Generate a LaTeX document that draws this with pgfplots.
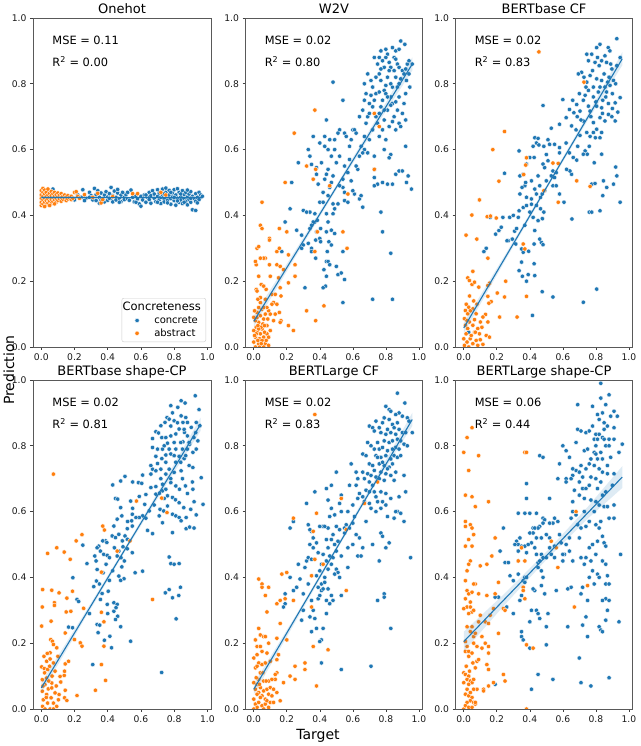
\documentclass[border=0pt]{standalone}
\usepackage{fontspec}
\setmainfont{DejaVu Sans}
\usepackage{pgfplots}
\pgfplotsset{compat=1.18}
\definecolor{tabblue}{RGB}{31,119,180}
\definecolor{taborange}{RGB}{255,127,14}
\pgfplotsset{
  panel/.style={
    scale only axis, width=177pt, height=329pt,
    xmin=-0.05, xmax=1.022, ymin=0, ymax=1,
    xtick={0,0.2,0.4,0.6,0.8,1}, ytick={0,0.2,0.4,0.6,0.8,1},
    tick align=outside, tick pos=left,
    major tick length=3pt,
    every tick/.style={black!75, line width=0.6pt},
    axis line style={black!65, line width=0.7pt},
    ticklabel style={font=\fontsize{9.2}{11}\selectfont, text=black!90},
    /pgf/number format/fixed, /pgf/number format/fixed zerofill,
    /pgf/number format/precision=1, /pgf/number format/assume math mode=true,
    title style={font=\fontsize{13}{15}\selectfont, at={(0.5,1)}, anchor=base, yshift=-2pt, inner sep=0pt},
    clip marker paths=true,
  },
  conc/.style={only marks, mark=*, mark size=2.2pt, mark options={fill=tabblue, draw=white, line width=0.35pt}},
  abst/.style={only marks, mark=*, mark size=2.2pt, mark options={fill=taborange, draw=white, line width=0.35pt}},
  regline/.style={tabblue, line width=1.1pt, forget plot},
  band/.style={fill=tabblue, fill opacity=0.15, draw=none, forget plot},
}
\newcommand{\stats}[2]{%
  \node[anchor=base west, font=\fontsize{11.4}{13}\selectfont, inner sep=0pt] at (rel axis cs:0.108,0.92) {MSE = #1};
  \node[anchor=base west, font=\fontsize{11.4}{13}\selectfont, inner sep=0pt] at (rel axis cs:0.108,0.852) {R\textsuperscript{2} = #2};
}
\begin{document}
\begin{tikzpicture}
\useasboundingbox (0pt,0pt) rectangle (640pt,746pt);

% ---------------- Onehot
\begin{axis}[panel, at={(33pt,399pt)}, anchor=south west, width=178pt, title={Onehot},
  legend style={at={(0.972,0.015)}, anchor=south east, draw=black!20, fill=white, rounded corners=2pt,
    font=\fontsize{10}{12}\selectfont, inner xsep=3pt, inner ysep=2pt, nodes={inner sep=2pt}},
  legend cell align=left,
  legend image code/.code={\path (0pt,0pt) (27pt,0pt); \draw[#1] plot coordinates {(12pt,0pt)};}]
\addlegendimage{empty legend}
\addlegendentry{\hspace*{-31.6pt}\fontsize{11.5}{13}\selectfont Concreteness}
\addplot[conc] coordinates {(0.07,0.480) (0.12,0.452) (0.17,0.458) (0.20,0.447) (0.22,0.462) (0.24,0.455) (0.25,0.478) (0.27,0.452) (0.29,0.470) (0.30,0.460) (0.31,0.447) (0.32,0.482) (0.33,0.463) (0.33,0.445) (0.34,0.475) (0.35,0.455) (0.35,0.437) (0.36,0.468) (0.37,0.450) (0.38,0.462) (0.38,0.441) (0.39,0.472) (0.40,0.456) (0.40,0.446) (0.41,0.466) (0.42,0.485) (0.42,0.452) (0.43,0.460) (0.43,0.441) (0.44,0.474) (0.45,0.455) (0.45,0.447) (0.46,0.468) (0.46,0.479) (0.47,0.452) (0.48,0.462) (0.48,0.442) (0.49,0.470) (0.50,0.455) (0.50,0.448) (0.51,0.463) (0.52,0.450) (0.53,0.446) (0.54,0.477) (0.55,0.455) (0.56,0.441) (0.57,0.460) (0.58,0.450) (0.59,0.435) (0.60,0.428) (0.60,0.458) (0.61,0.447) (0.62,0.462) (0.63,0.440) (0.64,0.455) (0.65,0.470) (0.65,0.448) (0.66,0.460) (0.66,0.437) (0.67,0.475) (0.68,0.452) (0.68,0.465) (0.69,0.442) (0.70,0.478) (0.70,0.458) (0.71,0.447) (0.71,0.468) (0.72,0.455) (0.72,0.436) (0.73,0.480) (0.73,0.462) (0.74,0.450) (0.74,0.441) (0.75,0.483) (0.75,0.470) (0.76,0.457) (0.76,0.445) (0.77,0.476) (0.77,0.462) (0.78,0.451) (0.78,0.434) (0.79,0.468) (0.79,0.456) (0.80,0.478) (0.80,0.445) (0.81,0.462) (0.81,0.431) (0.82,0.481) (0.82,0.452) (0.83,0.470) (0.83,0.440) (0.84,0.458) (0.84,0.447) (0.85,0.475) (0.85,0.436) (0.86,0.463) (0.86,0.451) (0.87,0.443) (0.87,0.470) (0.88,0.456) (0.88,0.432) (0.89,0.465) (0.89,0.448) (0.90,0.472) (0.90,0.440) (0.91,0.417) (0.91,0.458) (0.92,0.451) (0.93,0.415) (0.93,0.466) (0.93,0.443) (0.94,0.455) (0.95,0.470) (0.95,0.448) (0.96,0.462) (0.97,0.458) (0.94,0.438) (0.76,0.438) (0.80,0.455) (0.84,0.465) (0.88,0.477) (0.82,0.444) (0.78,0.470) (0.70,0.440) (0.86,0.440) (0.74,0.465) (0.90,0.452) (0.63,0.462) (0.57,0.440) (0.52,0.470) (0.47,0.440) (0.41,0.452) (0.36,0.447) (0.29,0.455) (0.26,0.445)};
\addlegendentry{concrete}
\addplot[abst] coordinates {(0.00,0.430) (0.00,0.440) (0.00,0.452) (0.00,0.462) (0.00,0.475) (0.01,0.435) (0.01,0.448) (0.01,0.458) (0.01,0.470) (0.01,0.482) (0.02,0.440) (0.02,0.452) (0.02,0.465) (0.02,0.477) (0.03,0.432) (0.03,0.445) (0.03,0.457) (0.03,0.470) (0.04,0.438) (0.04,0.450) (0.04,0.462) (0.04,0.480) (0.05,0.443) (0.05,0.455) (0.05,0.467) (0.06,0.436) (0.06,0.449) (0.06,0.460) (0.06,0.473) (0.07,0.442) (0.07,0.454) (0.07,0.466) (0.08,0.447) (0.08,0.458) (0.08,0.470) (0.09,0.440) (0.09,0.452) (0.09,0.463) (0.10,0.446) (0.10,0.457) (0.10,0.468) (0.11,0.450) (0.11,0.461) (0.12,0.443) (0.12,0.455) (0.12,0.466) (0.13,0.449) (0.13,0.458) (0.14,0.452) (0.14,0.462) (0.15,0.445) (0.15,0.456) (0.16,0.460) (0.16,0.450) (0.17,0.454) (0.18,0.448) (0.18,0.458) (0.19,0.452) (0.20,0.470) (0.21,0.472) (0.22,0.458) (0.23,0.452) (0.26,0.463) (0.31,0.455) (0.34,0.467) (0.36,0.438) (0.37,0.448) (0.43,0.457) (0.55,0.466) (0.58,0.466) (0.72,0.470) (0.75,0.462) (0.02,0.427) (0.05,0.430) (0.08,0.435)};
\addlegendentry{abstract}
\addplot[band] coordinates {(0,0.450) (0.5,0.452) (0.97,0.449) (0.97,0.458) (0.5,0.456) (0,0.459)} -- cycle;
\addplot[regline] coordinates {(0,0.4545) (0.97,0.4535)};
\stats{0.11}{0.00}
\end{axis}

% ---------------- W2V
\begin{axis}[panel, at={(245.5pt,399pt)}, anchor=south west, title={W2V}]
\addplot[conc] coordinates {(0.89,0.93) (0.915,0.92) (0.84,0.91) (0.77,0.90) (0.73,0.88) (0.81,0.89) (0.78,0.87) (0.85,0.88) (0.87,0.86) (0.75,0.86) (0.79,0.85) (0.83,0.85) (0.88,0.85) (0.93,0.86) (0.96,0.86) (0.90,0.84) (0.69,0.83) (0.67,0.80) (0.71,0.81) (0.77,0.81) (0.81,0.82) (0.86,0.82) (0.925,0.81) (0.945,0.79) (0.84,0.79) (0.79,0.78) (0.74,0.77) (0.68,0.77) (0.67,0.75) (0.73,0.75) (0.78,0.75) (0.83,0.76) (0.88,0.76) (0.66,0.72) (0.72,0.73) (0.77,0.73) (0.81,0.72) (0.87,0.72) (0.90,0.71) (0.64,0.70) (0.69,0.70) (0.74,0.70) (0.79,0.69) (0.85,0.70) (0.75,0.68) (0.88,0.68) (0.82,0.67) (0.68,0.68) (0.89,0.67) (0.54,0.75) (0.48,0.805) (0.44,0.69) (0.60,0.66) (0.61,0.66) (0.55,0.65) (0.52,0.66) (0.51,0.65) (0.43,0.64) (0.46,0.63) (0.49,0.63) (0.36,0.64) (0.40,0.62) (0.43,0.61) (0.45,0.60) (0.49,0.60) (0.56,0.64) (0.62,0.65) (0.59,0.63) (0.65,0.61) (0.67,0.60) (0.66,0.59) (0.69,0.59) (0.73,0.58) (0.64,0.58) (0.27,0.56) (0.33,0.60) (0.34,0.58) (0.35,0.555) (0.38,0.545) (0.38,0.525) (0.39,0.495) (0.44,0.525) (0.45,0.54) (0.48,0.52) (0.47,0.50) (0.43,0.51) (0.46,0.485) (0.55,0.55) (0.57,0.53) (0.63,0.54) (0.54,0.51) (0.59,0.505) (0.54,0.485) (0.61,0.465) (0.64,0.45) (0.65,0.46) (0.66,0.425) (0.55,0.47) (0.55,0.445) (0.57,0.44) (0.51,0.435) (0.48,0.435) (0.45,0.46) (0.40,0.44) (0.49,0.42) (0.44,0.405) (0.48,0.405) (0.37,0.405) (0.34,0.41) (0.30,0.415) (0.22,0.42) (0.23,0.50) (0.19,0.38) (0.26,0.355) (0.34,0.36) (0.37,0.38) (0.385,0.385) (0.405,0.36) (0.375,0.325) (0.40,0.33) (0.44,0.35) (0.47,0.355) (0.49,0.345) (0.405,0.32) (0.455,0.32) (0.47,0.31) (0.30,0.31) (0.33,0.315) (0.35,0.30) (0.35,0.29) (0.445,0.29) (0.29,0.30) (0.375,0.27) (0.44,0.26) (0.45,0.26) (0.46,0.25) (0.50,0.245) (0.425,0.235) (0.54,0.29) (0.17,0.29) (0.44,0.215) (0.51,0.22) (0.53,0.225) (0.55,0.205) (0.435,0.185) (0.42,0.18) (0.31,0.18) (0.54,0.135) (0.72,0.145) (0.84,0.145) (0.77,0.41) (0.78,0.35) (0.83,0.285) (0.75,0.495) (0.78,0.50) (0.81,0.495) (0.84,0.495) (0.73,0.515) (0.73,0.49) (0.86,0.525) (0.88,0.535) (0.90,0.535) (0.925,0.50) (0.935,0.52) (0.955,0.48) (0.92,0.61) (0.83,0.585) (0.82,0.575) (0.79,0.60) (0.73,0.54) (0.36,0.38) (0.35,0.37) (0.32,0.41) (0.42,0.47) (0.52,0.58) (0.50,0.56) (0.58,0.61) (0.62,0.55) (0.70,0.63) (0.76,0.64) (0.80,0.63) (0.86,0.66) (0.91,0.74) (0.94,0.83) (0.92,0.77) (0.80,0.88) (0.82,0.84) (0.76,0.83) (0.86,0.90) (0.88,0.80) (0.72,0.79) (0.70,0.74) (0.84,0.74) (0.80,0.77) (0.80,0.905) (0.86,0.875) (0.82,0.865) (0.77,0.845) (0.91,0.83) (0.87,0.79) (0.83,0.80) (0.80,0.795) (0.76,0.775) (0.92,0.845) (0.85,0.84) (0.89,0.815) (0.74,0.82) (0.71,0.765) (0.79,0.72) (0.83,0.735) (0.86,0.745) (0.76,0.71) (0.70,0.71) (0.92,0.69) (0.84,0.685) (0.78,0.66) (0.72,0.66) (0.67,0.64) (0.94,0.87) (0.88,0.905) (0.76,0.88) (0.81,0.76) (0.58,0.57) (0.47,0.58) (0.41,0.56) (0.52,0.49) (0.60,0.475) (0.42,0.44) (0.38,0.35) (0.45,0.38) (0.29,0.34)};
\addplot[abst] coordinates {(0.37,0.72) (0.245,0.65) (0.73,0.71) (0.76,0.67) (0.32,0.55) (0.375,0.54) (0.36,0.51) (0.19,0.50) (0.73,0.54) (0.46,0.49) (0.57,0.465) (0.05,0.44) (0.04,0.37) (0.05,0.36) (0.095,0.33) (0.095,0.325) (0.155,0.36) (0.20,0.35) (0.385,0.35) (0.54,0.35) (0.565,0.30) (0.37,0.29) (0.02,0.30) (0.03,0.305) (0.07,0.27) (0.06,0.27) (0.04,0.27) (0.015,0.25) (0.01,0.26) (0.14,0.29) (0.155,0.30) (0.14,0.25) (0.16,0.245) (0.18,0.235) (0.15,0.21) (0.25,0.25) (0.25,0.215) (0.21,0.28) (0.21,0.195) (0.10,0.215) (0.03,0.215) (0.045,0.19) (0.06,0.185) (0.015,0.175) (0.02,0.17) (0.11,0.16) (0.16,0.18) (0.165,0.155) (0.13,0.16) (0.07,0.145) (0.04,0.135) (0.03,0.12) (0.12,0.135) (0.11,0.13) (0.14,0.13) (0.155,0.105) (0.13,0.10) (0.12,0.08) (0.165,0.08) (0.16,0.075) (0.09,0.11) (0.08,0.12) (0.21,0.065) (0.24,0.05) (0.32,0.11) (0.375,0.08) (0.425,0.125) (0.00,0.015) (0.01,0.03) (0.02,0.045) (0.03,0.01) (0.035,0.025) (0.04,0.04) (0.05,0.055) (0.06,0.03) (0.07,0.01) (0.08,0.04) (0.09,0.005) (0.055,0.07) (0.03,0.075) (0.01,0.08) (0.015,0.06) (0.02,0.09) (0.04,0.095) (0.06,0.085) (0.07,0.10) (0.02,0.105) (0.005,0.11) (0.05,0.115) (0.08,0.065) (0.10,0.05) (0.035,0.0) (0.01,0.0) (0.06,0.0) (0.025,0.02) (0.00,0.05) (0.045,0.06) (0.065,0.045) (0.075,0.02) (0.015,0.04) (0.03,0.055) (0.05,0.02) (0.00,0.09) (0.09,0.03) (0.005,0.035) (0.025,0.065) (0.045,0.01) (0.065,0.065) (0.085,0.085) (0.04,0.15) (0.025,0.145) (0.06,0.12) (0.10,0.10) (0.075,0.175) (0.095,0.25)};
\addplot[band] coordinates {(0,0.061) (0.25,0.272) (0.5,0.478) (0.75,0.678) (0.96,0.840) (0.96,0.880) (0.75,0.700) (0.5,0.492) (0.25,0.292) (0,0.095)} -- cycle;
\addplot[regline] coordinates {(0,0.078) (0.96,0.860)};
\stats{0.02}{0.80}
\end{axis}

% ---------------- BERTbase CF
\begin{axis}[panel, at={(455.5pt,399pt)}, anchor=south west, title={BERTbase CF}]
\addplot[conc] coordinates {(0.927,0.937) (0.825,0.92) (0.805,0.91) (0.875,0.91) (0.885,0.90) (0.745,0.89) (0.775,0.89) (0.855,0.885) (0.755,0.87) (0.795,0.865) (0.835,0.87) (0.865,0.865) (0.947,0.88) (0.927,0.855) (0.897,0.845) (0.714,0.835) (0.694,0.83) (0.728,0.82) (0.765,0.825) (0.805,0.815) (0.835,0.81) (0.872,0.805) (0.907,0.81) (0.745,0.805) (0.785,0.79) (0.825,0.79) (0.855,0.79) (0.886,0.795) (0.755,0.78) (0.815,0.775) (0.865,0.775) (0.70,0.77) (0.735,0.765) (0.785,0.76) (0.842,0.75) (0.876,0.74) (0.917,0.742) (0.66,0.75) (0.684,0.737) (0.724,0.75) (0.755,0.732) (0.805,0.732) (0.835,0.727) (0.947,0.758) (0.933,0.714) (0.60,0.752) (0.48,0.734) (0.64,0.722) (0.667,0.712) (0.704,0.717) (0.765,0.717) (0.876,0.707) (0.897,0.70) (0.917,0.687) (0.825,0.697) (0.855,0.687) (0.62,0.697) (0.687,0.70) (0.724,0.687) (0.785,0.682) (0.58,0.677) (0.53,0.665) (0.653,0.672) (0.805,0.662) (0.835,0.652) (0.745,0.652) (0.704,0.643) (0.797,0.636) (0.765,0.64) (0.825,0.636) (0.785,0.652) (0.735,0.596) (0.724,0.586) (0.748,0.586) (0.79,0.56) (0.835,0.586) (0.846,0.505) (0.842,0.46) (0.866,0.485) (0.907,0.495) (0.927,0.52) (0.92,0.547) (0.947,0.44) (0.775,0.495) (0.795,0.497) (0.76,0.41) (0.775,0.41) (0.825,0.414) (0.655,0.389) (0.607,0.44) (0.805,0.176) (0.724,0.136) (0.54,0.152) (0.475,0.168) (0.416,0.096) (0.39,0.22) (0.43,0.217) (0.38,0.20) (0.355,0.215) (0.335,0.232) (0.426,0.253) (0.35,0.258) (0.36,0.288) (0.393,0.291) (0.426,0.313) (0.47,0.318) (0.46,0.328) (0.43,0.354) (0.35,0.298) (0.315,0.313) (0.294,0.328) (0.27,0.323) (0.308,0.352) (0.48,0.311) (0.237,0.394) (0.278,0.394) (0.33,0.394) (0.335,0.414) (0.36,0.424) (0.38,0.43) (0.41,0.434) (0.44,0.43) (0.465,0.42) (0.485,0.41) (0.476,0.39) (0.45,0.384) (0.42,0.394) (0.44,0.465) (0.465,0.455) (0.41,0.45) (0.38,0.455) (0.34,0.465) (0.37,0.49) (0.375,0.50) (0.353,0.485) (0.34,0.52) (0.36,0.525) (0.38,0.556) (0.40,0.576) (0.426,0.576) (0.335,0.596) (0.43,0.636) (0.45,0.634) (0.44,0.62) (0.42,0.61) (0.455,0.614) (0.485,0.61) (0.52,0.616) (0.55,0.616) (0.51,0.63) (0.58,0.606) (0.64,0.59) (0.663,0.576) (0.684,0.568) (0.653,0.525) (0.643,0.535) (0.623,0.54) (0.48,0.556) (0.49,0.545) (0.51,0.566) (0.54,0.535) (0.56,0.53) (0.53,0.52) (0.55,0.515) (0.50,0.505) (0.54,0.49) (0.56,0.49) (0.58,0.465) (0.46,0.49) (0.475,0.465) (0.49,0.475) (0.247,0.528) (0.16,0.394) (0.136,0.30) (0.122,0.29) (0.193,0.343) (0.213,0.354) (0.227,0.364) (0.262,0.323) (0.03,0.045) (0.78,0.84) (0.82,0.855) (0.85,0.83) (0.88,0.82) (0.74,0.79) (0.80,0.745) (0.86,0.76) (0.90,0.77) (0.92,0.80) (0.77,0.70) (0.84,0.71) (0.71,0.69) (0.68,0.66) (0.76,0.61) (0.62,0.62) (0.58,0.59) (0.50,0.585) (0.45,0.52) (0.41,0.505) (0.43,0.48) (0.40,0.41) (0.37,0.37) (0.32,0.36) (0.30,0.40) (0.89,0.86) (0.81,0.88) (0.90,0.725) (0.69,0.61)};
\addplot[abst] coordinates {(0.455,0.897) (0.728,0.805) (0.247,0.655) (0.176,0.60) (0.38,0.575) (0.375,0.553) (0.363,0.524) (0.213,0.504) (0.54,0.559) (0.572,0.558) (0.485,0.475) (0.684,0.505) (0.765,0.488) (0.572,0.44) (0.095,0.447) (0.049,0.401) (0.142,0.396) (0.162,0.398) (0.197,0.392) (0.014,0.34) (0.079,0.328) (0.36,0.313) (0.37,0.298) (0.146,0.27) (0.055,0.23) (0.024,0.21) (0.034,0.202) (0.05,0.19) (0.065,0.197) (0.091,0.182) (0.156,0.194) (0.146,0.187) (0.254,0.20) (0.203,0.164) (0.247,0.152) (0.146,0.154) (0.166,0.138) (0.152,0.133) (0.38,0.154) (0.323,0.091) (0.217,0.091) (0.132,0.099) (0.065,0.083) (0.101,0.076) (0.146,0.076) (0.116,0.091) (0.136,0.035) (0.156,0.03) (0.095,0.04) (0.03,0.121) (0.01,0.111) (0.055,0.116) (0.075,0.101) (0.024,0.101) (0.004,0.086) (0.01,0.066) (0.024,0.056) (0.034,0.076) (0.055,0.066) (0.065,0.045) (0.014,0.04) (0.0,0.025) (0.02,0.015) (0.039,0.025) (0.055,0.01) (0.075,0.02) (0.085,0.005) (0.004,0.005) (0.03,0.0) (0.045,0.035) (0.085,0.056) (0.10,0.022) (0.116,0.008) (0.02,0.08) (0.04,0.11) (0.06,0.14) (0.08,0.13) (0.11,0.06) (0.035,0.155) (0.07,0.045) (0.015,0.13)};
\addplot[band] coordinates {(0,0.042) (0.25,0.262) (0.5,0.478) (0.75,0.688) (0.96,0.856) (0.96,0.896) (0.75,0.706) (0.5,0.490) (0.25,0.280) (0,0.074)} -- cycle;
\addplot[regline] coordinates {(0,0.058) (0.96,0.876)};
\stats{0.02}{0.83}
\end{axis}

% ---------------- BERTbase shape-CP
\begin{axis}[panel, at={(33pt,37pt)}, anchor=south west, width=178pt, title={BERTbase shape-CP}]
\addplot[conc] coordinates {(0.927,0.952) (0.95,0.91) (0.842,0.937) (0.866,0.93) (0.78,0.922) (0.822,0.917) (0.79,0.90) (0.842,0.891) (0.87,0.886) (0.757,0.886) (0.745,0.871) (0.77,0.881) (0.80,0.876) (0.853,0.871) (0.88,0.871) (0.933,0.871) (0.955,0.861) (0.72,0.861) (0.903,0.856) (0.83,0.851) (0.69,0.843) (0.706,0.839) (0.726,0.825) (0.75,0.825) (0.78,0.83) (0.81,0.836) (0.862,0.841) (0.88,0.83) (0.919,0.825) (0.943,0.815) (0.67,0.822) (0.76,0.808) (0.80,0.81) (0.853,0.812) (0.893,0.805) (0.67,0.795) (0.70,0.79) (0.73,0.79) (0.77,0.79) (0.81,0.79) (0.85,0.79) (0.88,0.79) (0.933,0.79) (0.913,0.78) (0.75,0.772) (0.78,0.775) (0.83,0.768) (0.86,0.761) (0.69,0.768) (0.726,0.761) (0.75,0.75) (0.81,0.75) (0.84,0.75) (0.89,0.74) (0.913,0.734) (0.70,0.746) (0.67,0.729) (0.72,0.729) (0.77,0.729) (0.842,0.724) (0.66,0.714) (0.69,0.724) (0.75,0.714) (0.80,0.719) (0.61,0.711) (0.504,0.707) (0.43,0.681) (0.478,0.693) (0.55,0.69) (0.585,0.688) (0.605,0.686) (0.66,0.673) (0.69,0.676) (0.73,0.683) (0.78,0.688) (0.73,0.663) (0.75,0.668) (0.81,0.678) (0.868,0.678) (0.832,0.668) (0.913,0.668) (0.963,0.703) (0.974,0.622) (0.76,0.648) (0.79,0.643) (0.808,0.636) (0.83,0.627) (0.858,0.612) (0.90,0.607) (0.92,0.63) (0.69,0.653) (0.712,0.656) (0.63,0.652) (0.59,0.646) (0.538,0.632) (0.623,0.622) (0.65,0.602) (0.715,0.607) (0.737,0.602) (0.76,0.617) (0.79,0.592) (0.81,0.587) (0.83,0.582) (0.842,0.572) (0.872,0.582) (0.933,0.59) (0.92,0.55) (0.872,0.548) (0.893,0.553) (0.79,0.536) (0.67,0.533) (0.64,0.543) (0.61,0.587) (0.59,0.582) (0.57,0.582) (0.71,0.587) (0.73,0.566) (0.447,0.64) (0.46,0.638) (0.478,0.612) (0.485,0.587) (0.457,0.577) (0.548,0.592) (0.544,0.572) (0.518,0.548) (0.548,0.556) (0.504,0.526) (0.518,0.516) (0.437,0.556) (0.427,0.526) (0.447,0.521) (0.467,0.531) (0.488,0.511) (0.492,0.493) (0.518,0.487) (0.548,0.475) (0.467,0.48) (0.457,0.465) (0.48,0.46) (0.485,0.432) (0.467,0.404) (0.498,0.396) (0.478,0.391) (0.565,0.414) (0.61,0.419) (0.387,0.511) (0.37,0.511) (0.395,0.506) (0.346,0.495) (0.336,0.49) (0.356,0.48) (0.376,0.47) (0.397,0.467) (0.322,0.465) (0.33,0.45) (0.372,0.414) (0.336,0.424) (0.332,0.389) (0.41,0.391) (0.403,0.358) (0.366,0.351) (0.356,0.333) (0.397,0.318) (0.437,0.323) (0.457,0.318) (0.437,0.297) (0.45,0.308) (0.46,0.282) (0.447,0.272) (0.478,0.25) (0.336,0.257) (0.352,0.255) (0.342,0.232) (0.38,0.209) (0.413,0.221) (0.423,0.186) (0.538,0.206) (0.31,0.135) (0.725,0.111) (0.812,0.274) (0.828,0.345) (0.838,0.37) (0.78,0.442) (0.80,0.44) (0.83,0.442) (0.747,0.353) (0.77,0.363) (0.79,0.338) (0.77,0.462) (0.275,0.442) (0.25,0.498) (0.215,0.333) (0.225,0.327) (0.19,0.399) (0.164,0.249) (0.188,0.247) (0.316,0.372) (0.82,0.87) (0.86,0.85) (0.78,0.86) (0.89,0.81) (0.74,0.80) (0.84,0.81) (0.80,0.77) (0.87,0.77) (0.72,0.70) (0.78,0.70) (0.85,0.70) (0.88,0.655) (0.74,0.64) (0.68,0.62) (0.63,0.58) (0.55,0.61) (0.52,0.57) (0.44,0.49) (0.41,0.46) (0.39,0.44) (0.43,0.42) (0.50,0.45) (0.35,0.38) (0.40,0.29) (0.29,0.29) (0.93,0.84) (0.91,0.69) (0.66,0.74)};
\addplot[abst] coordinates {(0.073,0.714) (0.725,0.641) (0.573,0.632) (0.757,0.597) (0.37,0.556) (0.38,0.544) (0.245,0.53) (0.21,0.511) (0.534,0.511) (0.457,0.48) (0.038,0.473) (0.093,0.49) (0.138,0.477) (0.174,0.455) (0.362,0.416) (0.008,0.363) (0.063,0.361) (0.107,0.353) (0.079,0.323) (0.079,0.315) (0.154,0.337) (0.188,0.358) (0.178,0.297) (0.15,0.295) (0.255,0.306) (0.006,0.31) (0.362,0.294) (0.377,0.265) (0.67,0.333) (0.059,0.267) (0.002,0.252) (0.144,0.231) (0.057,0.211) (0.067,0.206) (0.073,0.196) (0.053,0.171) (0.093,0.186) (0.036,0.169) (0.016,0.16) (0.032,0.145) (0.053,0.152) (0.073,0.14) (0.002,0.128) (0.018,0.123) (0.038,0.12) (0.083,0.115) (0.164,0.145) (0.144,0.137) (0.14,0.115) (0.138,0.102) (0.113,0.099) (0.117,0.082) (0.235,0.201) (0.245,0.191) (0.2,0.211) (0.215,0.041) (0.144,0.057) (0.14,0.034) (0.154,0.026) (0.103,0.028) (0.107,0.044) (0.326,0.057) (0.377,0.191) (0.362,0.135) (0.387,0.087) (0.006,0.089) (0.022,0.074) (0.042,0.061) (0.063,0.079) (0.006,0.054) (0.032,0.044) (0.059,0.034) (0.012,0.028) (0.038,0.018) (0.008,0.008) (0.073,0.018) (0.083,0.049) (0.093,0.008) (0.053,0.0) (0.022,0.0) (0.073,0.0) (0.063,0.064) (0.032,0.094) (0.01,0.07) (0.045,0.085) (0.02,0.11) (0.065,0.10) (0.09,0.07) (0.05,0.13) (0.03,0.035) (0.10,0.16)};
\addplot[band] coordinates {(0,0.048) (0.25,0.264) (0.5,0.475) (0.75,0.680) (0.96,0.846) (0.96,0.886) (0.75,0.700) (0.5,0.488) (0.25,0.282) (0,0.080)} -- cycle;
\addplot[regline] coordinates {(0,0.064) (0.96,0.866)};
\stats{0.02}{0.81}
\end{axis}

% ---------------- BERTLarge CF
\begin{axis}[panel, at={(245.5pt,37pt)}, anchor=south west, title={BERTLarge CF}]
\addplot[conc] coordinates {(0.87,0.96) (0.80,0.92) (0.82,0.91) (0.83,0.905) (0.915,0.93) (0.88,0.90) (0.86,0.895) (0.90,0.89) (0.93,0.885) (0.79,0.885) (0.74,0.875) (0.78,0.87) (0.84,0.865) (0.70,0.86) (0.72,0.855) (0.76,0.855) (0.81,0.85) (0.85,0.855) (0.88,0.85) (0.73,0.845) (0.77,0.84) (0.80,0.835) (0.83,0.84) (0.86,0.835) (0.90,0.84) (0.96,0.84) (0.69,0.81) (0.71,0.80) (0.75,0.81) (0.79,0.815) (0.82,0.81) (0.84,0.815) (0.87,0.82) (0.89,0.815) (0.91,0.805) (0.73,0.79) (0.76,0.79) (0.78,0.795) (0.81,0.785) (0.86,0.795) (0.88,0.79) (0.93,0.80) (0.66,0.775) (0.68,0.77) (0.74,0.77) (0.77,0.765) (0.80,0.77) (0.83,0.76) (0.85,0.77) (0.87,0.765) (0.59,0.745) (0.70,0.745) (0.72,0.74) (0.76,0.745) (0.79,0.74) (0.82,0.735) (0.84,0.745) (0.73,0.725) (0.77,0.72) (0.80,0.715) (0.83,0.71) (0.86,0.72) (0.91,0.71) (0.50,0.72) (0.62,0.72) (0.66,0.72) (0.69,0.715) (0.71,0.71) (0.63,0.70) (0.67,0.70) (0.74,0.705) (0.76,0.70) (0.79,0.695) (0.62,0.68) (0.58,0.68) (0.70,0.69) (0.72,0.68) (0.47,0.68) (0.44,0.67) (0.53,0.65) (0.37,0.66) (0.64,0.655) (0.66,0.645) (0.68,0.665) (0.73,0.66) (0.77,0.66) (0.80,0.655) (0.83,0.64) (0.88,0.645) (0.92,0.66) (0.63,0.64) (0.67,0.63) (0.70,0.625) (0.75,0.63) (0.78,0.63) (0.80,0.62) (0.71,0.61) (0.74,0.60) (0.77,0.61) (0.81,0.585) (0.87,0.60) (0.89,0.595) (0.91,0.57) (0.45,0.635) (0.47,0.61) (0.52,0.625) (0.53,0.60) (0.49,0.59) (0.46,0.585) (0.56,0.56) (0.60,0.565) (0.58,0.55) (0.55,0.55) (0.62,0.53) (0.64,0.52) (0.66,0.49) (0.50,0.555) (0.48,0.53) (0.47,0.515) (0.52,0.545) (0.55,0.535) (0.45,0.55) (0.42,0.555) (0.40,0.555) (0.35,0.54) (0.36,0.52) (0.34,0.50) (0.38,0.505) (0.34,0.545) (0.33,0.56) (0.32,0.625) (0.43,0.555) (0.44,0.515) (0.49,0.50) (0.50,0.48) (0.53,0.465) (0.57,0.49) (0.60,0.50) (0.63,0.465) (0.65,0.465) (0.39,0.475) (0.42,0.47) (0.46,0.465) (0.44,0.45) (0.47,0.44) (0.48,0.46) (0.45,0.425) (0.43,0.40) (0.41,0.38) (0.40,0.42) (0.38,0.405) (0.50,0.425) (0.51,0.415) (0.52,0.40) (0.49,0.41) (0.43,0.385) (0.45,0.365) (0.47,0.345) (0.48,0.33) (0.46,0.32) (0.44,0.33) (0.39,0.335) (0.40,0.345) (0.41,0.36) (0.42,0.365) (0.53,0.345) (0.35,0.33) (0.36,0.30) (0.37,0.275) (0.35,0.235) (0.38,0.245) (0.42,0.245) (0.41,0.21) (0.40,0.205) (0.41,0.14) (0.53,0.12) (0.71,0.13) (0.83,0.245) (0.79,0.35) (0.79,0.34) (0.75,0.33) (0.76,0.45) (0.77,0.535) (0.78,0.525) (0.80,0.49) (0.82,0.505) (0.72,0.50) (0.95,0.46) (0.30,0.30) (0.31,0.43) (0.32,0.45) (0.33,0.46) (0.36,0.49) (0.35,0.455) (0.33,0.38) (0.28,0.395) (0.29,0.27) (0.27,0.44) (0.26,0.37) (0.22,0.55) (0.24,0.57) (0.22,0.40) (0.19,0.35) (0.19,0.32) (0.18,0.31) (0.34,0.28) (0.85,0.58) (0.86,0.60) (0.82,0.88) (0.87,0.87) (0.84,0.79) (0.75,0.765) (0.78,0.75) (0.89,0.77) (0.92,0.84) (0.81,0.73) (0.85,0.695) (0.70,0.66) (0.74,0.645) (0.60,0.62) (0.57,0.60) (0.61,0.585) (0.51,0.51) (0.45,0.49) (0.41,0.44) (0.39,0.37) (0.44,0.29) (0.30,0.35) (0.24,0.36) (0.57,0.43) (0.68,0.57) (0.94,0.875)};
\addplot[abst] coordinates {(0.37,0.895) (0.75,0.69) (0.67,0.625) (0.24,0.58) (0.38,0.595) (0.36,0.54) (0.53,0.64) (0.56,0.545) (0.37,0.455) (0.42,0.44) (0.56,0.36) (0.03,0.395) (0.05,0.38) (0.05,0.37) (0.07,0.345) (0.09,0.37) (0.17,0.41) (0.20,0.415) (0.24,0.33) (0.19,0.335) (0.16,0.33) (0.14,0.32) (0.35,0.31) (0.08,0.295) (0.35,0.405) (0.16,0.26) (0.03,0.245) (0.04,0.225) (0.06,0.22) (0.07,0.22) (0.01,0.21) (0.14,0.215) (0.20,0.21) (0.02,0.19) (0.04,0.19) (0.09,0.20) (0.05,0.175) (0.15,0.165) (0.14,0.15) (0.03,0.14) (0.05,0.135) (0.07,0.14) (0.10,0.145) (0.00,0.155) (0.01,0.125) (0.02,0.13) (0.04,0.11) (0.14,0.11) (0.13,0.105) (0.13,0.09) (0.09,0.085) (0.31,0.14) (0.31,0.12) (0.36,0.19) (0.45,0.18) (0.25,0.13) (0.22,0.10) (0.25,0.09) (0.18,0.08) (0.38,0.07) (0.14,0.05) (0.16,0.025) (0.00,0.08) (0.01,0.06) (0.02,0.075) (0.03,0.05) (0.04,0.065) (0.05,0.04) (0.06,0.055) (0.07,0.03) (0.08,0.06) (0.09,0.045) (0.10,0.065) (0.11,0.04) (0.00,0.03) (0.01,0.015) (0.02,0.005) (0.03,0.02) (0.04,0.035) (0.05,0.01) (0.06,0.0) (0.07,0.015) (0.08,0.025) (0.09,0.005) (0.10,0.02) (0.12,0.06) (0.03,0.09) (0.06,0.085) (0.02,0.045) (0.00,0.0) (0.015,0.095) (0.035,0.075) (0.055,0.11) (0.075,0.085) (0.11,0.09) (0.08,0.17) (0.02,0.165) (0.12,0.02)};
\addplot[band] coordinates {(0,0.044) (0.25,0.263) (0.5,0.481) (0.75,0.694) (0.96,0.860) (0.96,0.900) (0.75,0.712) (0.5,0.493) (0.25,0.281) (0,0.076)} -- cycle;
\addplot[regline] coordinates {(0,0.060) (0.96,0.880)};
\stats{0.02}{0.83}
\end{axis}

% ---------------- BERTLarge shape-CP
\begin{axis}[panel, at={(455.5pt,37pt)}, anchor=south west, title={BERTLarge shape-CP}]
\addplot[conc] coordinates {(0.83,0.99) (0.88,0.955) (0.83,0.945) (0.69,0.925) (0.78,0.92) (0.86,0.925) (0.91,0.905) (0.81,0.895) (0.84,0.90) (0.89,0.89) (0.93,0.89) (0.82,0.88) (0.85,0.87) (0.87,0.86) (0.91,0.855) (0.69,0.85) (0.71,0.845) (0.74,0.84) (0.76,0.845) (0.80,0.835) (0.82,0.835) (0.84,0.825) (0.79,0.82) (0.81,0.82) (0.85,0.82) (0.88,0.82) (0.91,0.82) (0.96,0.805) (0.86,0.80) (0.88,0.80) (0.80,0.80) (0.68,0.81) (0.73,0.785) (0.75,0.79) (0.79,0.78) (0.80,0.775) (0.94,0.78) (0.77,0.76) (0.81,0.76) (0.84,0.76) (0.89,0.765) (0.71,0.74) (0.74,0.73) (0.76,0.745) (0.79,0.74) (0.82,0.73) (0.84,0.72) (0.87,0.715) (0.91,0.715) (0.68,0.725) (0.70,0.72) (0.72,0.705) (0.77,0.705) (0.80,0.70) (0.83,0.69) (0.66,0.71) (0.65,0.70) (0.62,0.70) (0.57,0.70) (0.58,0.745) (0.60,0.80) (0.62,0.785) (0.64,0.765) (0.66,0.73) (0.70,0.69) (0.72,0.67) (0.74,0.67) (0.81,0.67) (0.84,0.65) (0.67,0.665) (0.70,0.65) (0.73,0.64) (0.77,0.635) (0.80,0.63) (0.82,0.62) (0.85,0.615) (0.87,0.615) (0.91,0.62) (0.88,0.58) (0.66,0.63) (0.68,0.59) (0.69,0.56) (0.71,0.55) (0.74,0.555) (0.76,0.57) (0.80,0.56) (0.82,0.55) (0.84,0.525) (0.81,0.51) (0.76,0.49) (0.78,0.50) (0.85,0.505) (0.86,0.495) (0.95,0.47) (0.80,0.47) (0.74,0.46) (0.77,0.45) (0.73,0.44) (0.71,0.46) (0.66,0.45) (0.81,0.41) (0.82,0.40) (0.76,0.40) (0.78,0.42) (0.87,0.405) (0.86,0.38) (0.88,0.38) (0.86,0.335) (0.88,0.33) (0.84,0.33) (0.86,0.44) (0.87,0.30) (0.74,0.28) (0.71,0.35) (0.72,0.37) (0.75,0.33) (0.82,0.25) (0.83,0.24) (0.84,0.235) (0.86,0.27) (0.94,0.265) (0.72,0.255) (0.75,0.22) (0.70,0.155) (0.71,0.08) (0.77,0.07) (0.88,0.095) (0.65,0.37) (0.63,0.365) (0.63,0.25) (0.61,0.47) (0.60,0.47) (0.62,0.50) (0.64,0.52) (0.66,0.60) (0.65,0.58) (0.57,0.57) (0.55,0.58) (0.54,0.565) (0.52,0.565) (0.52,0.64) (0.50,0.53) (0.48,0.58) (0.49,0.575) (0.48,0.565) (0.47,0.52) (0.46,0.555) (0.45,0.55) (0.44,0.52) (0.44,0.595) (0.42,0.55) (0.42,0.535) (0.40,0.535) (0.41,0.505) (0.43,0.49) (0.44,0.47) (0.45,0.445) (0.46,0.45) (0.47,0.47) (0.48,0.46) (0.50,0.46) (0.47,0.42) (0.48,0.40) (0.47,0.375) (0.49,0.35) (0.45,0.43) (0.43,0.36) (0.42,0.365) (0.44,0.30) (0.45,0.29) (0.46,0.275) (0.41,0.30) (0.40,0.265) (0.40,0.185) (0.41,0.06) (0.45,0.105) (0.50,0.25) (0.50,0.195) (0.51,0.29) (0.54,0.09) (0.53,0.47) (0.55,0.495) (0.55,0.46) (0.52,0.52) (0.59,0.505) (0.46,0.77) (0.48,0.765) (0.38,0.685) (0.38,0.64) (0.40,0.595) (0.33,0.595) (0.37,0.595) (0.32,0.51) (0.33,0.50) (0.34,0.52) (0.35,0.495) (0.37,0.495) (0.38,0.475) (0.33,0.48) (0.36,0.39) (0.37,0.385) (0.37,0.40) (0.35,0.345) (0.34,0.33) (0.38,0.40) (0.30,0.39) (0.28,0.405) (0.25,0.445) (0.27,0.445) (0.24,0.55) (0.22,0.48) (0.21,0.34) (0.19,0.34) (0.30,0.29) (0.35,0.22) (0.35,0.235) (0.36,0.21) (0.19,0.075) (0.26,0.31) (0.85,0.85) (0.78,0.86) (0.83,0.78) (0.87,0.74) (0.76,0.68) (0.86,0.66) (0.90,0.68) (0.79,0.60) (0.83,0.57) (0.70,0.52) (0.64,0.48) (0.58,0.53) (0.52,0.49) (0.43,0.55) (0.39,0.50) (0.31,0.50) (0.33,0.41) (0.56,0.36) (0.60,0.45) (0.79,0.38) (0.84,0.45) (0.91,0.58) (0.73,0.60) (0.62,0.69)};
\addplot[abst] coordinates {(0.05,0.855) (0.02,0.825) (0.00,0.78) (0.37,0.78) (0.38,0.78) (0.09,0.77) (0.03,0.725) (0.01,0.65) (0.05,0.645) (0.07,0.615) (0.15,0.63) (0.01,0.57) (0.01,0.555) (0.04,0.56) (0.05,0.55) (0.06,0.53) (0.03,0.515) (0.01,0.495) (0.05,0.495) (0.35,0.49) (0.37,0.45) (0.33,0.45) (0.53,0.51) (0.56,0.49) (0.57,0.43) (0.68,0.60) (0.75,0.375) (0.67,0.31) (0.19,0.52) (0.17,0.465) (0.14,0.44) (0.10,0.435) (0.04,0.45) (0.03,0.44) (0.02,0.42) (0.07,0.38) (0.21,0.385) (0.36,0.37) (0.37,0.335) (0.36,0.36) (0.19,0.35) (0.14,0.345) (0.02,0.36) (0.03,0.35) (0.05,0.355) (0.09,0.35) (0.01,0.335) (0.02,0.31) (0.04,0.325) (0.04,0.31) (0.05,0.295) (0.00,0.305) (0.03,0.29) (0.06,0.30) (0.10,0.285) (0.09,0.265) (0.13,0.265) (0.15,0.26) (0.16,0.285) (0.24,0.305) (0.25,0.30) (0.18,0.305) (0.21,0.23) (0.05,0.25) (0.04,0.235) (0.06,0.22) (0.07,0.23) (0.01,0.205) (0.06,0.20) (0.02,0.19) (0.01,0.175) (0.03,0.175) (0.05,0.17) (0.08,0.145) (0.03,0.16) (0.13,0.20) (0.15,0.19) (0.15,0.17) (0.11,0.185) (0.09,0.15) (0.14,0.135) (0.15,0.12) (0.38,0.195) (0.42,0.185) (0.24,0.105) (0.25,0.085) (0.15,0.07) (0.12,0.06) (0.12,0.055) (0.00,0.11) (0.01,0.105) (0.03,0.10) (0.02,0.09) (0.04,0.085) (0.05,0.08) (0.06,0.09) (0.00,0.08) (0.03,0.075) (0.02,0.06) (0.01,0.045) (0.03,0.04) (0.05,0.035) (0.04,0.025) (0.06,0.02) (0.07,0.015) (0.02,0.02) (0.00,0.0) (0.01,0.01) (0.03,0.005) (0.05,0.005) (0.07,0.02) (0.08,0.06) (0.06,0.06) (0.07,0.125) (0.08,0.19) (0.38,0.0) (0.18,0.08) (0.015,0.13) (0.035,0.115) (0.055,0.14) (0.02,0.25) (0.06,0.38) (0.11,0.22) (0.01,0.39) (0.04,0.05)};
\addplot[band] coordinates {(0,0.175) (0.25,0.318) (0.5,0.4535) (0.75,0.578) (0.96,0.672) (0.96,0.738) (0.75,0.614) (0.5,0.4775) (0.25,0.352) (0,0.235)} -- cycle;
\addplot[regline] coordinates {(0,0.205) (0.96,0.705)};
\stats{0.06}{0.44}
\end{axis}

\node[rotate=90, font=\fontsize{14}{16}\selectfont] at (9pt,376pt) {Prediction};
\node[anchor=base, font=\fontsize{14}{16}\selectfont] at (318pt,6pt) {Target};
\end{tikzpicture}
\end{document}
